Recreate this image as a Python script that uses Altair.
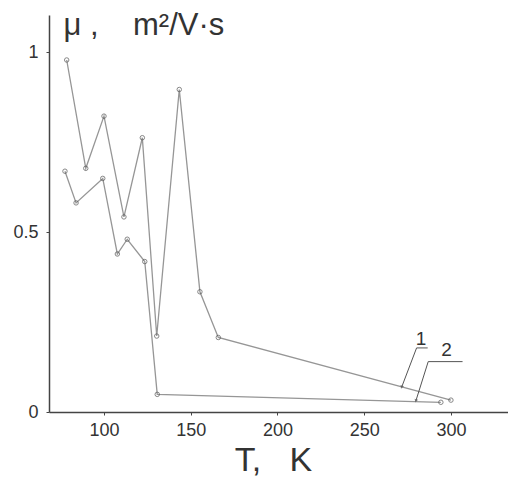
import altair as alt
import pandas as pd

# Curve 1 (upper)
t1 = [78.5, 89.5, 100, 111.5, 122.1, 130.4, 143.4, 155.3, 165.9, 300]
mu1 = [0.978, 0.677, 0.822, 0.542, 0.762, 0.211, 0.896, 0.334, 0.207, 0.033]
# Curve 2 (lower)
t2 = [77.5, 83.9, 99.3, 107.7, 113.4, 123.5, 130.7, 294.2]
mu2 = [0.669, 0.581, 0.649, 0.439, 0.480, 0.418, 0.049, 0.027]

# Curve labels and leader lines (data units)
lab_text = ["1", "2"]
lab_t = [282.7, 297.4]
lab_mu = [0.186, 0.156]
lead1_t = [286.6, 280.2, 271.6]
lead1_mu = [0.178, 0.178, 0.069]
lead2_t = [306.7, 286.9, 279.8]
lead2_mu = [0.140, 0.140, 0.031]
arrow_angle = [201, 197]

x_ticks = [100, 150, 200, 250, 300]
y_ticks = [0, 0.5, 1]

FONT = "Liberation Sans"
LINE = "#969696"
NB = "\u00a0"

df = pd.DataFrame(
    {"T": t1 + t2, "mu": mu1 + mu2,
     "curve": ["1"] * len(t1) + ["2"] * len(t2),
     "order": list(range(len(t1))) + list(range(len(t2)))}
)
lead = pd.DataFrame(
    {"T": lead1_t + lead2_t, "mu": lead1_mu + lead2_mu,
     "seg": ["1"] * 3 + ["2"] * 3, "order": [0, 1, 2] * 2}
)
arrows = pd.DataFrame({"T": [lead1_t[-1], lead2_t[-1]],
                       "mu": [lead1_mu[-1], lead2_mu[-1]],
                       "ang": arrow_angle})
labels = pd.DataFrame({"T": lab_t, "mu": lab_mu, "text": lab_text})

xs = alt.Scale(domain=[68.3, 332.9], nice=False, zero=False)
ys = alt.Scale(domain=[0, 1.103], nice=False, zero=False)

x_enc = alt.X("T:Q", scale=xs, axis=alt.Axis(
    values=x_ticks, title="T," + NB * 3 + "K", grid=False, domain=True,
    domainColor="#444", domainWidth=1.5, tickColor="#444", tickSize=3,
    labelFont=FONT, labelFontSize=18, labelColor="#333", labelPadding=6,
    titleFont=FONT, titleFontSize=34, titleFontWeight="normal",
    titleColor="#333", titlePadding=4, titleX=224))
y_enc = alt.Y("mu:Q", scale=ys, axis=alt.Axis(
    values=y_ticks, title="μ" + NB + "," + NB * 4 + "m²/V·s", grid=False,
    domain=True,
    domainColor="#444", domainWidth=1.5, tickColor="#444", tickSize=3,
    labelFont=FONT, labelFontSize=18, labelColor="#333", labelPadding=8,
    labelExpr="datum.value == 0.5 ? '0.5' : format(datum.value, 'd')",
    titleFont=FONT, titleFontSize=31, titleFontWeight="normal",
    titleColor="#333", titleAngle=0, titleAlign="left",
    titleBaseline="alphabetic", titleX=14, titleY=19))

lines = alt.Chart(df).mark_line(color=LINE, strokeWidth=1.3).encode(
    x=x_enc, y=y_enc, detail="curve:N", order="order:Q")
pts = alt.Chart(df).mark_point(shape="circle", size=20, filled=False,
                                color="#555", strokeWidth=1).encode(
    x="T:Q", y="mu:Q")
leaders = alt.Chart(lead).mark_line(color="#555", strokeWidth=1).encode(
    x="T:Q", y="mu:Q", detail="seg:N", order="order:Q")
heads = alt.Chart(arrows).mark_point(shape="triangle-up", filled=True,
                                     size=14, color="#555").encode(
    x="T:Q", y="mu:Q", angle=alt.Angle("ang:Q", scale=None))
txt = alt.Chart(labels).mark_text(font=FONT, fontSize=19, color="#333",
                                   baseline="alphabetic", align="center").encode(
    x="T:Q", y="mu:Q", text="text:N")

chart = alt.layer(lines, pts, leaders, heads, txt).properties(
    width=459, height=397,
    autosize=alt.AutoSizeParams(type="none"),
    padding={"left": 49, "top": 15, "right": 0, "bottom": 74},
    background="white",
).configure_view(stroke=None)

chart.save("out.html", embed_options={"renderer": "svg", "actions": False})
